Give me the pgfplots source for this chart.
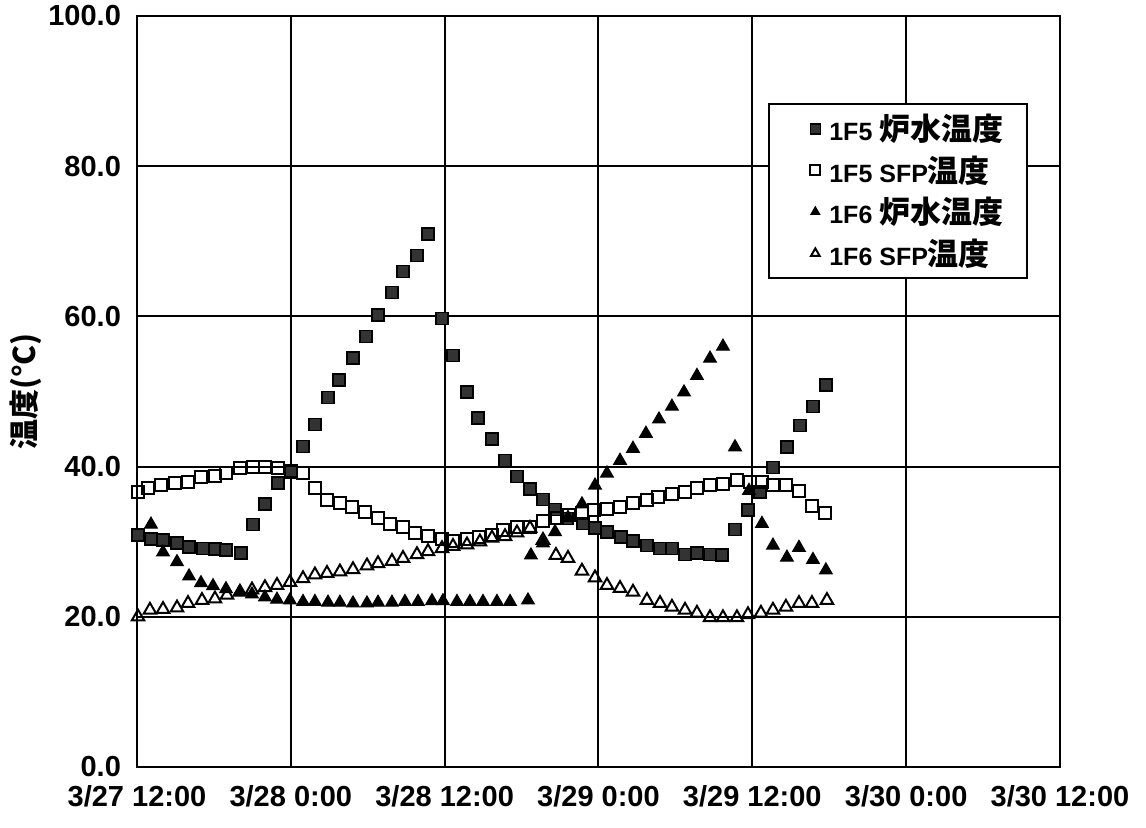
\documentclass[border=0pt]{standalone}
\usepackage{fontspec}
\setmainfont{Liberation Sans}
\newfontfamily\cjk{Noto Sans CJK JP}
\usepackage{pgfplots}
\pgfplotsset{compat=1.18}
\usepackage{pgfplotstable}
\newcommand\jp[1]{{\cjk\fontsize{15.5}{16}\selectfont\bfseries #1}}
\newcommand\jy[1]{{\cjk\fontsize{15}{16}\selectfont\bfseries #1}}
\pgfplotsset{myleg/.style={legend image code/.code={\path (0pt,0pt) (17pt,0pt); \draw[##1] plot coordinates {(12.5pt,0pt)};}}}

% 1F5 reactor water temperature (hours from 3/27 12:00)
\pgfplotstableread{
t v
0.08 30.9
1.09 30.4
2.03 30.2
3.12 29.8
4.06 29.3
5.15 29.1
6.08 29.0
6.94 28.9
8.11 28.5
9.05 32.3
9.98 35.0
11.00 37.8
12.01 39.3
12.95 42.7
13.88 45.6
14.90 49.2
15.76 51.5
16.85 54.5
17.86 57.3
18.80 60.2
19.89 63.2
20.75 66.0
21.84 68.1
22.70 71.0
23.79 59.7
24.65 54.8
25.74 49.9
26.60 46.5
27.69 43.7
28.71 40.8
29.64 38.7
30.66 37.0
31.67 35.6
32.61 34.3
33.54 33.1
34.79 32.4
35.73 31.8
36.66 31.3
37.75 30.6
38.69 30.1
39.78 29.5
40.80 29.1
41.73 29.1
42.75 28.3
43.68 28.5
44.70 28.3
45.63 28.2
46.65 31.6
47.66 34.2
48.60 36.6
49.61 39.9
50.70 42.6
51.72 45.5
52.73 48.0
53.74 50.9
}\rwA

% 1F5 SFP temperature
\pgfplotstableread{
t v
0.08 36.6
0.86 37.1
1.87 37.5
2.96 37.8
3.98 38.0
4.99 38.6
6.08 38.8
6.94 39.1
8.03 39.8
9.05 39.9
9.98 39.9
11.00 39.8
12.01 39.4
12.95 39.1
13.88 37.1
14.82 35.5
15.83 35.1
16.77 34.6
17.78 33.9
18.80 33.2
19.73 32.4
20.75 31.9
21.68 31.1
22.70 30.7
23.79 30.4
24.65 30.1
25.74 30.3
26.68 30.6
27.69 30.9
28.55 31.5
29.64 31.9
30.66 32.0
31.67 32.8
32.76 33.1
33.70 33.5
34.71 33.8
35.65 34.2
36.66 34.4
37.68 34.6
38.69 35.1
39.78 35.5
40.64 35.9
41.73 36.4
42.75 36.6
43.68 37.1
44.70 37.6
45.71 37.7
46.80 38.2
47.82 38.0
48.75 37.9
49.61 37.6
50.62 37.5
51.64 36.8
52.65 34.7
53.67 33.8
}\sfA

% 1F6 reactor water temperature
\pgfplotstableread{
t v
1.09 32.3
2.03 28.6
3.12 27.3
4.06 25.4
4.99 24.5
5.93 24.1
6.94 23.7
8.03 23.3
8.97 23.0
9.98 22.6
10.92 22.3
11.93 22.2
12.95 22.0
13.88 22.0
14.90 21.9
15.83 21.9
16.85 21.8
17.94 21.8
18.80 21.9
19.89 21.9
20.90 22.0
21.92 22.0
23.01 22.1
23.87 22.1
24.96 22.0
25.97 22.0
26.99 22.0
28.08 22.0
29.10 22.0
30.50 22.2
30.73 28.2
31.67 29.8
32.61 31.3
33.62 33.2
34.71 35.0
35.73 37.5
36.66 39.1
37.68 40.8
38.69 42.4
39.70 44.4
40.72 46.3
41.73 48.0
42.67 49.9
43.68 52.1
44.70 54.4
45.71 56.0
46.65 42.6
47.74 36.8
48.75 32.4
49.61 29.5
50.70 27.9
51.64 29.2
52.73 27.6
53.74 26.2
}\rwB

% 1F6 SFP temperature
\pgfplotstableread{
t v
0.08 20.0
1.01 20.9
2.03 21.0
3.12 21.2
3.98 21.8
5.07 22.2
6.08 22.4
7.02 22.9
8.03 23.3
8.97 23.6
9.98 23.9
10.92 24.2
11.93 24.6
12.95 25.1
13.88 25.6
14.82 25.8
15.83 26.0
16.85 26.3
17.94 26.8
18.80 27.1
19.89 27.4
20.75 27.8
21.84 28.3
22.70 28.7
23.79 29.1
24.65 29.4
25.74 29.6
26.75 30.0
27.69 30.5
28.71 30.7
29.64 31.2
30.66 31.8
31.67 30.2
32.68 28.2
33.62 27.8
34.71 26.1
35.73 25.2
36.66 24.2
37.68 23.8
38.69 23.3
39.78 22.2
40.80 21.8
41.73 21.3
42.75 20.9
43.68 20.5
44.70 19.9
45.71 19.9
46.80 19.9
47.66 20.3
48.67 20.5
49.61 20.9
50.62 21.3
51.64 21.8
52.65 21.8
53.82 22.2
}\sfB

\begin{document}
\begin{tikzpicture}
\path[use as bounding box] (-68.5pt,-30pt) rectangle (504.5pt,383.5pt);
\begin{axis}[
  scale only axis, width=461.5pt, height=375.5pt,
  xmin=0, xmax=72, ymin=0, ymax=100,
  xtick={0,12,...,72},
  xticklabels={3/27 12:00,3/28 0:00,3/28 12:00,3/29 0:00,3/29 12:00,3/30 0:00,3/30 12:00},
  ytick={0,20,...,100},
  yticklabel style={/pgf/number format/fixed, /pgf/number format/fixed zerofill, /pgf/number format/precision=1},
  /pgf/number format/assume math mode=true,
  grid=major, major grid style={black, line width=1pt},
  axis line style={black, line width=1pt},
  major tick length=0pt,
  tick label style={font=\fontsize{14.5}{16}\selectfont\bfseries},
  xticklabel style={yshift=-5.5pt},
  yticklabel style={xshift=-4.5pt},
  ylabel={\jy{温度(°C)}},
  ylabel style={at={(axis description cs:-0.121,0.5)}, anchor=center},
  legend style={at={(0.684,0.884)}, anchor=north west, draw=black, line width=1pt,
    inner xsep=10pt, inner ysep=3pt, row sep=2pt,
    nodes={inner ysep=2pt},
    font=\fontsize{12.5}{14}\selectfont\bfseries, cells={anchor=west}},
  legend image post style={mark size=2.5pt},
]
\addplot[only marks, myleg, mark=square*, mark size=3pt, mark options={draw=black, fill=black!80, line width=0.8pt}] table[x=t,y=v]{\rwA};
\addlegendentry{1F5 \jp{炉水温度}}
\addplot[only marks, myleg, mark=square, mark size=3pt, mark options={draw=black, fill=white, line width=1pt}] table[x=t,y=v]{\sfA};
\addlegendentry{1F5 SFP\jp{温度}}
\addplot[only marks, myleg, mark=triangle*, mark size=3.6pt, mark options={draw=black, fill=black, line width=0.6pt}] table[x=t,y=v]{\rwB};
\addlegendentry{1F6 \jp{炉水温度}}
\addplot[only marks, myleg, mark=triangle, mark size=3.6pt, mark options={draw=black, fill=white, line width=1pt}] table[x=t,y=v]{\sfB};
\addlegendentry{1F6 SFP\jp{温度}}
\end{axis}
\end{tikzpicture}
\end{document}
